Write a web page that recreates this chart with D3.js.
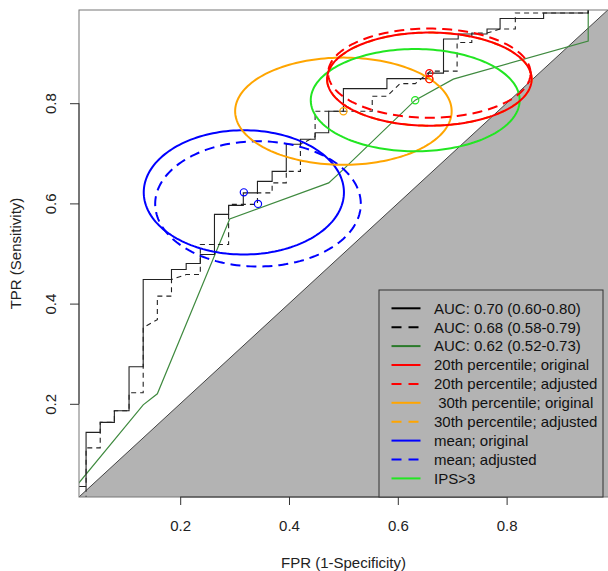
<!DOCTYPE html>
<html>
<head>
<meta charset="utf-8">
<script src="https://d3js.org/d3.v7.min.js"></script>
<style>
    body { margin: 0; background: #fff; }
    text { font-family: "Liberation Sans", Arial, Helvetica, sans-serif; }
</style>
</head>
<body>
<div id="rocVis"></div>
<script>

// ROC curve, original score (AUC 0.70) - [FPR, TPR]
var rocOriginal = [
    [0, 0], [0, 0.035], [0.027, 0.035], [0.027, 0.143], [0.053, 0.143], [0.053, 0.163],
    [0.079, 0.163], [0.079, 0.186], [0.106, 0.186], [0.106, 0.274], [0.132, 0.274],
    [0.132, 0.448], [0.184, 0.448], [0.184, 0.468], [0.211, 0.468], [0.211, 0.480],
    [0.237, 0.480], [0.237, 0.498], [0.263, 0.498], [0.263, 0.578], [0.289, 0.578],
    [0.289, 0.596], [0.316, 0.596], [0.316, 0.621], [0.342, 0.621], [0.342, 0.644],
    [0.369, 0.644], [0.369, 0.664], [0.395, 0.664], [0.395, 0.718], [0.421, 0.718],
    [0.421, 0.728], [0.448, 0.728], [0.448, 0.741], [0.473, 0.741], [0.473, 0.784],
    [0.500, 0.784], [0.500, 0.829], [0.580, 0.829], [0.580, 0.849], [0.656, 0.849],
    [0.656, 0.860], [0.684, 0.860], [0.684, 0.928], [0.711, 0.928], [0.711, 0.938],
    [0.764, 0.938], [0.764, 0.948], [0.788, 0.948], [0.788, 0.969], [0.868, 0.969],
    [0.868, 0.980], [0.950, 0.980], [0.950, 1], [1, 1]
];

// ROC curve, adjusted score (AUC 0.68)
var rocAdjusted = [
    [0, 0], [0.027, 0], [0.027, 0.112], [0.053, 0.112], [0.053, 0.163], [0.079, 0.163],
    [0.079, 0.186], [0.106, 0.186], [0.106, 0.222], [0.132, 0.222], [0.132, 0.352],
    [0.158, 0.368], [0.158, 0.415], [0.184, 0.415], [0.184, 0.448], [0.211, 0.458],
    [0.237, 0.458], [0.237, 0.518], [0.289, 0.518], [0.289, 0.598], [0.342, 0.598],
    [0.342, 0.621], [0.369, 0.621], [0.369, 0.641], [0.395, 0.641], [0.395, 0.664],
    [0.421, 0.664], [0.421, 0.718], [0.448, 0.733], [0.448, 0.784], [0.553, 0.784],
    [0.553, 0.814], [0.580, 0.814], [0.604, 0.839], [0.632, 0.839], [0.660, 0.864],
    [0.709, 0.864], [0.709, 0.921], [0.736, 0.921], [0.736, 0.940], [0.764, 0.940],
    [0.788, 0.948], [0.816, 0.948], [0.816, 0.980], [0.950, 0.980], [0.950, 1], [1, 1]
];

// ROC curve, IPS (AUC 0.62)
var rocIps = [
    [0, 0.024], [0.132, 0.198], [0.158, 0.220], [0.291, 0.569], [0.473, 0.641],
    [0.500, 0.668], [0.632, 0.806], [0.702, 0.848], [0.950, 0.924], [0.950, 1], [1, 1]
];

// cut-off points with confidence ellipses
var ellipseNames = ["30th adjusted", "mean original", "mean adjusted", "30th original",
                    "IPS>3", "20th original", "20th adjusted"];
var ellipseCx = [0.658, 0.317, 0.343, 0.500, 0.632, 0.658, 0.658];
var ellipseCy = [0.848, 0.622, 0.599, 0.784, 0.806, 0.848, 0.860];
var ellipseRx = [0.188, 0.184, 0.189, 0.199, 0.192, 0.188, 0.186];
var ellipseRy = [0.093, 0.124, 0.125, 0.107, 0.102, 0.093, 0.089];

// legend
var legendLabels = ["AUC: 0.70 (0.60-0.80)", "AUC: 0.68 (0.58-0.79)", "AUC: 0.62 (0.52-0.73)",
    "20th percentile; original", "20th percentile; adjusted", " 30th percentile; original",
    "30th percentile; adjusted", "mean; original", "mean; adjusted", "IPS>3"];

var xTicks = [0.2, 0.4, 0.6, 0.8];
var yTicks = [0.2, 0.4, 0.6, 0.8];

/////////////
// GENERAL //
/////////////

var width = 608, height = 571;
var plot = {left: 79, right: 608, top: 10, bottom: 497};

var svg = d3.select("#rocVis")
    .append("svg")
    .attr("width", width)
    .attr("height", height);

var x = d3.scaleLinear()
    .domain([0.014, 0.986])
    .range([plot.left, plot.right - 0.2]);

var y = d3.scaleLinear()
    .domain([0.014, 0.986])
    .range([plot.bottom, plot.top]);

// styles for the ellipses, same order as ellipseNames
var ellipseColor = ["#ffa500", "#0000ff", "#0000ff", "#ffa500", "#22e622", "#ff0000", "#ff0000"];
var ellipseDash = [true, false, true, false, false, false, true];

var legendColor = ["#000", "#000", "#2a7a2a", "#ff0000", "#ff0000", "#ffa500", "#ffa500",
                   "#0000ff", "#0000ff", "#22e622"];
var legendDash = [false, true, false, false, true, false, true, false, true, false];

svg.append("defs").append("clipPath")
    .attr("id", "clip")
    .append("rect")
    .attr("x", plot.left)
    .attr("y", plot.top)
    .attr("width", plot.right - plot.left)
    .attr("height", plot.bottom - plot.top);

var chart = svg.append("g").attr("clip-path", "url(#clip)");

// grey area below the chance line
chart.append("path")
    .attr("d", d3.line().x(d => x(d[0])).y(d => y(d[1]))([[0, 0], [1, 1], [1, 0]]))
    .attr("fill", "#b3b3b3")
    .attr("stroke", "none");
chart.append("line")
    .attr("x1", x(0)).attr("y1", y(0))
    .attr("x2", x(1)).attr("y2", y(1))
    .attr("stroke", "#444")
    .attr("stroke-width", 1);

//////////
// ROC  //
//////////

var line = d3.line()
    .x(function(d) { return x(d[0]); })
    .y(function(d) { return y(d[1]); });

chart.append("path")
    .attr("d", line(rocIps))
    .attr("fill", "none")
    .attr("stroke", "#3f8a3f")
    .attr("stroke-width", 1.2);

chart.append("path")
    .attr("d", line(rocAdjusted))
    .attr("fill", "none")
    .attr("stroke", "#222")
    .attr("stroke-width", 1.1)
    .attr("stroke-dasharray", "5,4");

chart.append("path")
    .attr("d", line(rocOriginal))
    .attr("fill", "none")
    .attr("stroke", "#222")
    .attr("stroke-width", 1.1);

//////////////
// ELLIPSES //
//////////////

var angles = d3.range(0, 2 * Math.PI, Math.PI / 90);

ellipseNames.forEach(function(name, i) {
    var pts = angles.map(function(t) {
        return [ellipseCx[i] + ellipseRx[i] * Math.cos(t), ellipseCy[i] + ellipseRy[i] * Math.sin(t)];
    });
    chart.append("path")
        .attr("d", line.curve(d3.curveLinearClosed)(pts))
        .attr("fill", "none")
        .attr("stroke", ellipseColor[i])
        .attr("stroke-width", 2)
        .attr("stroke-dasharray", ellipseDash[i] ? "10,6" : null);
    line.curve(d3.curveLinear);
});

// centre points
chart.selectAll("circle.pt")
    .data(d3.range(ellipseNames.length))
    .enter()
    .append("circle")
    .attr("class", "pt")
    .attr("cx", i => x(ellipseCx[i]))
    .attr("cy", i => y(ellipseCy[i]))
    .attr("r", 3.6)
    .attr("fill", "none")
    .attr("stroke", i => ellipseColor[i])
    .attr("stroke-width", 1.2);

//////////
// AXIS //
//////////

svg.append("rect")
    .attr("x", plot.left)
    .attr("y", plot.top)
    .attr("width", plot.right - plot.left + 2)
    .attr("height", plot.bottom - plot.top)
    .attr("fill", "none")
    .attr("stroke", "#777");

var xAxis = svg.append("g")
    .attr("transform", "translate(0," + plot.bottom + ")")
    .call(d3.axisBottom(x).tickValues(xTicks).tickSize(8).tickPadding(15).tickFormat(d3.format(".1f")));
xAxis.select(".domain").remove();
xAxis.append("line")
    .attr("x1", x(xTicks[0])).attr("x2", x(xTicks[xTicks.length - 1]))
    .attr("stroke", "#333");

var yAxis = svg.append("g")
    .attr("transform", "translate(" + plot.left + ",0)")
    .call(d3.axisLeft(y).tickValues(yTicks).tickSize(9).tickFormat(d3.format(".1f")));
yAxis.select(".domain").remove();
yAxis.append("line")
    .attr("y1", y(yTicks[0])).attr("y2", y(yTicks[yTicks.length - 1]))
    .attr("stroke", "#333");
yAxis.selectAll(".tick text")
    .attr("x", 0).attr("dy", null)
    .attr("text-anchor", "middle")
    .attr("transform", "translate(-23,0) rotate(-90)");

svg.selectAll(".tick line").attr("stroke", "#333");
svg.selectAll(".tick text")
    .style("font-size", "15px")
    .style("font-family", "'Liberation Sans', Arial, sans-serif")
    .attr("fill", "#222");

// axis labels
svg.append("text")
    .attr("x", (plot.left + plot.right) / 2)
    .attr("y", 568)
    .attr("text-anchor", "middle")
    .style("font-size", "15px")
    .attr("fill", "#222")
    .text("FPR (1-Specificity)");

svg.append("text")
    .attr("transform", "translate(21," + (plot.top + plot.bottom) / 2 + ") rotate(-90)")
    .attr("text-anchor", "middle")
    .style("font-size", "15px")
    .attr("fill", "#222")
    .text("TPR (Sensitivity)");

////////////
// LEGEND //
////////////

var legend = svg.append("g");
legend.append("rect")
    .attr("x", 379).attr("y", 290)
    .attr("width", 224).attr("height", plot.bottom - 290)
    .attr("fill", "#b3b3b3")
    .attr("stroke", "#333");

var rowY = function(i) { return 308.3 + i * 18.9; };

legend.selectAll("line.key")
    .data(legendLabels)
    .enter()
    .append("line")
    .attr("class", "key")
    .attr("x1", 391.5).attr("x2", 420.5)
    .attr("y1", (d, i) => rowY(i)).attr("y2", (d, i) => rowY(i))
    .attr("stroke", (d, i) => legendColor[i])
    .attr("stroke-width", 2)
    .attr("stroke-dasharray", (d, i) => legendDash[i] ? "10,7" : null);

legend.selectAll("text.key")
    .data(legendLabels)
    .enter()
    .append("text")
    .attr("class", "key")
    .attr("x", 434)
    .attr("y", (d, i) => rowY(i) + 5.3)
    .style("font-size", "15px")
    .style("white-space", "pre")
    .attr("fill", "#111")
    .text(d => d);

</script>
</body>
</html>
